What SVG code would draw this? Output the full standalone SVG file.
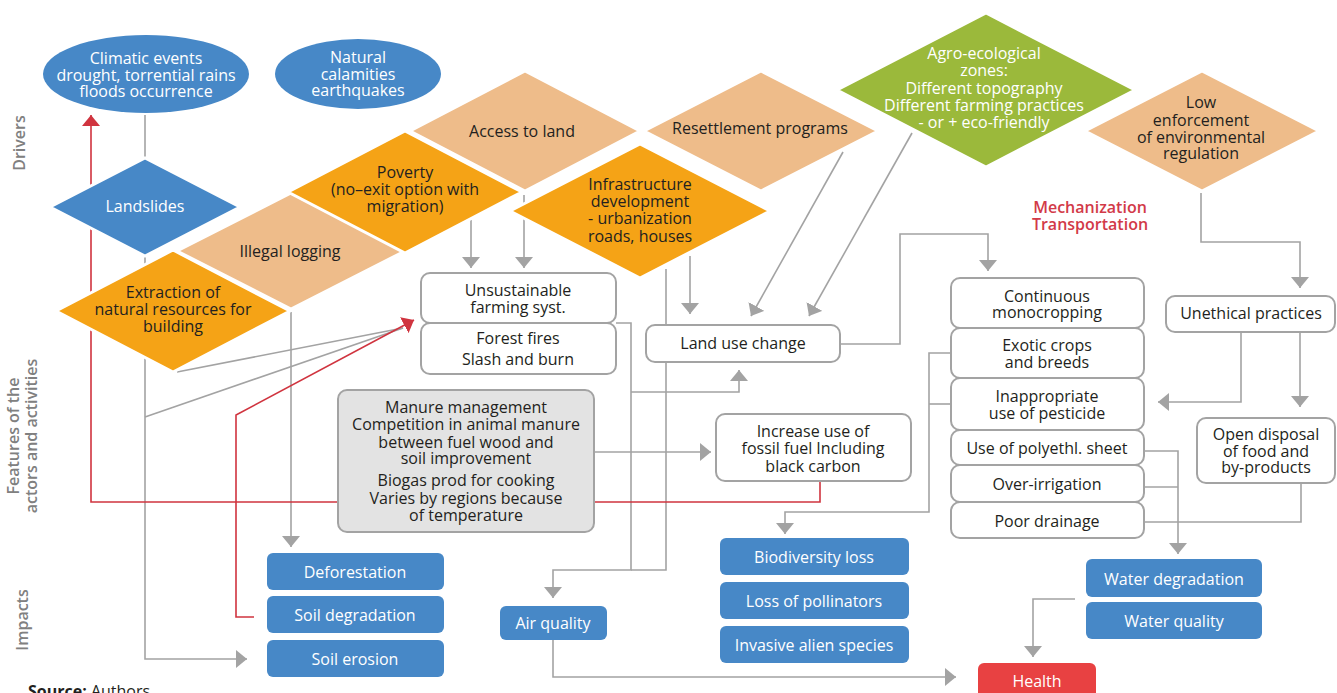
<svg xmlns="http://www.w3.org/2000/svg" width="1337" height="693" viewBox="0 0 1337 693">
<defs>
<style>
.t{font-family:"Open Sans","Liberation Sans",sans-serif;font-size:16px;fill:#231f20;text-anchor:middle}
.w{fill:#fff}
.lab{font-family:"Open Sans","Liberation Sans",sans-serif;font-size:16px;font-weight:600;fill:#808080;text-anchor:middle}
.mech{font-family:"Open Sans","Liberation Sans",sans-serif;font-size:16px;font-weight:600;fill:#d23a48;text-anchor:middle}
.box{fill:#fff;stroke:#a3a3a3;stroke-width:2}
.gbox{fill:#e3e3e3;stroke:#a3a3a3;stroke-width:2}
.imp{fill:#4788c7}
.dia{stroke:#fff;stroke-width:3}
.tan{fill:#eebc8a}
.org{fill:#f5a316}
.ln{fill:none;stroke:#a3a3a3;stroke-width:1.6}
.rl{fill:none;stroke:#d0343f;stroke-width:1.6}
</style>
<marker id="ah" viewBox="0 0 11 18" refX="11" refY="9" markerWidth="11" markerHeight="18" orient="auto" markerUnits="userSpaceOnUse"><path d="M0,0 L11,9 L0,18 z" fill="#a3a3a3"/></marker>
<marker id="ar" viewBox="0 0 11 18" refX="11" refY="9" markerWidth="11" markerHeight="18" orient="auto" markerUnits="userSpaceOnUse"><path d="M0,0 L11,9 L0,18 z" fill="#d0343f"/></marker>
</defs>
<rect width="1337" height="693" fill="#fff"/>

<g id="connectors">
<path class="ln" d="M145,115 V157"/>
<path class="ln" d="M145,256 V659 H247" marker-end="url(#ah)"/>
<path class="ln" d="M145,417 L403,328"/>
<path class="ln" d="M177,372 L403,328"/>
<path class="ln" d="M291,312 V547" marker-end="url(#ah)"/>
<path class="ln" d="M471,220 V268" marker-end="url(#ah)"/>
<path class="ln" d="M524,195 V268" marker-end="url(#ah)"/>
<path class="ln" d="M616,323 H631 V570 H553 V598" marker-end="url(#ah)"/>
<path class="ln" d="M666,269 V570 H631"/>
<path class="ln" d="M631,392 H739 V370" marker-end="url(#ah)"/>
<path class="ln" d="M690,256 V314" marker-end="url(#ah)"/>
<path class="ln" d="M843,152 L751,316" marker-end="url(#ah)"/>
<path class="ln" d="M912,133 L809,316" marker-end="url(#ah)"/>
<path class="ln" d="M594,452 H711" marker-end="url(#ah)"/>
<path class="ln" d="M840,344 H900 V234 H988 V271" marker-end="url(#ah)"/>
<path class="ln" d="M1201,193 V242 H1300 V288" marker-end="url(#ah)"/>
<path class="ln" d="M1241,332 V402 H1158" marker-end="url(#ah)"/>
<path class="ln" d="M1300,332 V407" marker-end="url(#ah)"/>
<path class="ln" d="M1301,483 V522 H1144"/>
<path class="ln" d="M1144,451 H1178 V554" marker-end="url(#ah)"/>
<path class="ln" d="M1144,487 H1178"/>
<path class="ln" d="M951,353 H929 V512 H785 V534" marker-end="url(#ah)"/>
<path class="ln" d="M951,404 H929"/>
<path class="ln" d="M1075,599 H1033 V657" marker-end="url(#ah)"/>
<path class="ln" d="M553,639 V677 H956" marker-end="url(#ah)"/>
<path class="rl" d="M820,481 V502 H91 V115" marker-end="url(#ar)"/>
<path class="rl" d="M254,617 H236 V415 L414,320" marker-end="url(#ar)"/>
</g>

<g id="labels">
<text class="lab" transform="translate(25,143) rotate(-90)">Drivers</text>
<text class="lab" transform="translate(19,436) rotate(-90)">Features of the</text>
<text class="lab" transform="translate(37,436) rotate(-90)">actors and activities</text>
<text class="lab" transform="translate(28,620) rotate(-90)">Impacts</text>
<text class="mech" x="1090" y="213">Mechanization</text>
<text class="mech" x="1090" y="230">Transportation</text>
<text class="t" x="28" y="697" style="text-anchor:start"><tspan font-weight="700">Source:</tspan> Authors</text>
</g>

<g id="climatic">
<ellipse cx="146" cy="74" rx="103" ry="39" class="imp"/>
<text class="t w" x="146" y="64">Climatic events</text>
<text class="t w" x="146" y="81">drought, torrential rains</text>
<text class="t w" x="146" y="97">floods occurrence</text>
</g>
<g id="natural">
<ellipse cx="358" cy="74" rx="83" ry="35" class="imp"/>
<text class="t w" x="358" y="63">Natural</text>
<text class="t w" x="358" y="80">calamities</text>
<text class="t w" x="358" y="96">earthquakes</text>
</g>

<g id="landslides">
<polygon class="dia imp" points="50,207 145,158 240,207 145,256"/>
<text class="t w" x="145" y="212">Landslides</text>
</g>
<g id="illegal-logging">
<polygon class="dia tan" points="177,251 291,193 405,251 291,309"/>
<text class="t" x="290" y="257">Illegal logging</text>
</g>
<g id="extraction">
<polygon class="dia org" points="56,311 173,250 290,311 173,372"/>
<text class="t" x="173" y="298">Extraction of</text>
<text class="t" x="173" y="315">natural resources for</text>
<text class="t" x="173" y="332">building</text>
</g>
<g id="poverty">
<polygon class="dia org" points="288,192 405,131 522,192 405,253"/>
<text class="t" x="405" y="178">Poverty</text>
<text class="t" x="405" y="195">(no–exit option with</text>
<text class="t" x="405" y="212">migration)</text>
</g>
<g id="access-to-land">
<polygon class="dia tan" points="410,131 525,71 640,131 525,191"/>
<text class="t" x="522" y="137">Access to land</text>
</g>
<g id="infrastructure">
<polygon class="dia org" points="510,211 640,144 770,211 640,278"/>
<text class="t" x="640" y="190">Infrastructure</text>
<text class="t" x="640" y="207">development</text>
<text class="t" x="640" y="224">- urbanization</text>
<text class="t" x="640" y="242">roads, houses</text>
</g>
<g id="resettlement">
<polygon class="dia tan" points="644,131 761,71 878,131 761,191"/>
<text class="t" x="760" y="134">Resettlement programs</text>
</g>
<g id="agro-ecological">
<polygon class="dia" fill="#9bb93b" points="837,90 986,13 1135,90 986,167"/>
<text class="t w" x="984" y="59">Agro-ecological</text>
<text class="t w" x="984" y="76">zones:</text>
<text class="t w" x="984" y="94">Different topography</text>
<text class="t w" x="984" y="111">Different farming practices</text>
<text class="t w" x="984" y="128">- or + eco-friendly</text>
</g>
<g id="low-enforcement">
<polygon class="dia tan" points="1085,131 1202,71 1319,131 1202,191"/>
<text class="t" x="1201" y="108">Low</text>
<text class="t" x="1201" y="126">enforcement</text>
<text class="t" x="1201" y="143">of environmental</text>
<text class="t" x="1201" y="159">regulation</text>
</g>

<g id="unsustainable">
<rect class="box" x="421" y="273" width="195" height="50" rx="9"/>
<text class="t" x="518" y="296">Unsustainable</text>
<text class="t" x="518" y="313">farming syst.</text>
</g>
<g id="forest-fires">
<rect class="box" x="421" y="323" width="195" height="51" rx="9"/>
<text class="t" x="518" y="344">Forest fires</text>
<text class="t" x="518" y="365">Slash and burn</text>
</g>
<g id="land-use-change">
<rect class="box" x="646" y="325" width="194" height="37" rx="9"/>
<text class="t" x="743" y="349">Land use change</text>
</g>
<g id="fossil-fuel">
<rect class="box" x="716" y="414" width="195" height="67" rx="9"/>
<text class="t" x="813" y="437">Increase use of</text>
<text class="t" x="813" y="454">fossil fuel Including</text>
<text class="t" x="813" y="472">black carbon</text>
</g>
<g id="manure">
<rect class="gbox" x="338" y="390" width="256" height="142" rx="9"/>
<text class="t" x="466" y="413">Manure management</text>
<text class="t" x="466" y="430">Competition in animal manure</text>
<text class="t" x="466" y="448">between fuel wood and</text>
<text class="t" x="466" y="464">soil improvement</text>
<text class="t" x="466" y="486">Biogas prod for cooking</text>
<text class="t" x="466" y="504">Varies by regions because</text>
<text class="t" x="466" y="521">of temperature</text>
</g>

<g id="continuous">
<rect class="box" x="951" y="278" width="193" height="50" rx="9"/>
<text class="t" x="1047" y="302">Continuous</text>
<text class="t" x="1047" y="318">monocropping</text>
</g>
<g id="exotic">
<rect class="box" x="951" y="328" width="193" height="50" rx="9"/>
<text class="t" x="1047" y="351">Exotic crops</text>
<text class="t" x="1047" y="368">and breeds</text>
</g>
<g id="pesticide">
<rect class="box" x="951" y="378" width="193" height="52" rx="9"/>
<text class="t" x="1047" y="402">Inappropriate</text>
<text class="t" x="1047" y="419">use of pesticide</text>
</g>
<g id="polyethl">
<rect class="box" x="951" y="430" width="193" height="35" rx="9"/>
<text class="t" x="1047" y="454">Use of polyethl. sheet</text>
</g>
<g id="over-irrigation">
<rect class="box" x="951" y="465" width="193" height="37" rx="9"/>
<text class="t" x="1047" y="490">Over-irrigation</text>
</g>
<g id="poor-drainage">
<rect class="box" x="951" y="502" width="193" height="36" rx="9"/>
<text class="t" x="1047" y="527">Poor drainage</text>
</g>
<g id="unethical">
<rect class="box" x="1166" y="296" width="169" height="36" rx="9"/>
<text class="t" x="1251" y="319">Unethical practices</text>
</g>
<g id="open-disposal">
<rect class="box" x="1197" y="418" width="138" height="65" rx="9"/>
<text class="t" x="1266" y="440">Open disposal</text>
<text class="t" x="1266" y="457">of food and</text>
<text class="t" x="1266" y="473">by-products</text>
</g>

<g id="deforestation">
<rect class="imp" x="267" y="553" width="177" height="37" rx="6"/>
<text class="t w" x="355" y="578">Deforestation</text>
</g>
<g id="soil-degradation">
<rect class="imp" x="267" y="596" width="177" height="37" rx="6"/>
<text class="t w" x="355" y="621">Soil degradation</text>
</g>
<g id="soil-erosion">
<rect class="imp" x="267" y="640" width="177" height="37" rx="6"/>
<text class="t w" x="355" y="665">Soil erosion</text>
</g>
<g id="air-quality">
<rect class="imp" x="500" y="606" width="107" height="34" rx="6"/>
<text class="t w" x="553" y="629">Air quality</text>
</g>
<g id="biodiversity">
<rect class="imp" x="720" y="538" width="189" height="37" rx="6"/>
<text class="t w" x="814" y="563">Biodiversity loss</text>
</g>
<g id="pollinators">
<rect class="imp" x="720" y="582" width="189" height="37" rx="6"/>
<text class="t w" x="814" y="607">Loss of pollinators</text>
</g>
<g id="invasive">
<rect class="imp" x="720" y="626" width="189" height="37" rx="6"/>
<text class="t w" x="814" y="651">Invasive alien species</text>
</g>
<g id="water-degradation">
<rect class="imp" x="1086" y="559" width="176" height="38" rx="6"/>
<text class="t w" x="1174" y="585">Water degradation</text>
</g>
<g id="water-quality">
<rect class="imp" x="1086" y="602" width="176" height="37" rx="6"/>
<text class="t w" x="1174" y="627">Water quality</text>
</g>
<g id="health">
<rect x="978" y="663" width="118" height="40" rx="6" fill="#e84142"/>
<text class="t w" x="1037" y="687">Health</text>
</g>
</svg>
